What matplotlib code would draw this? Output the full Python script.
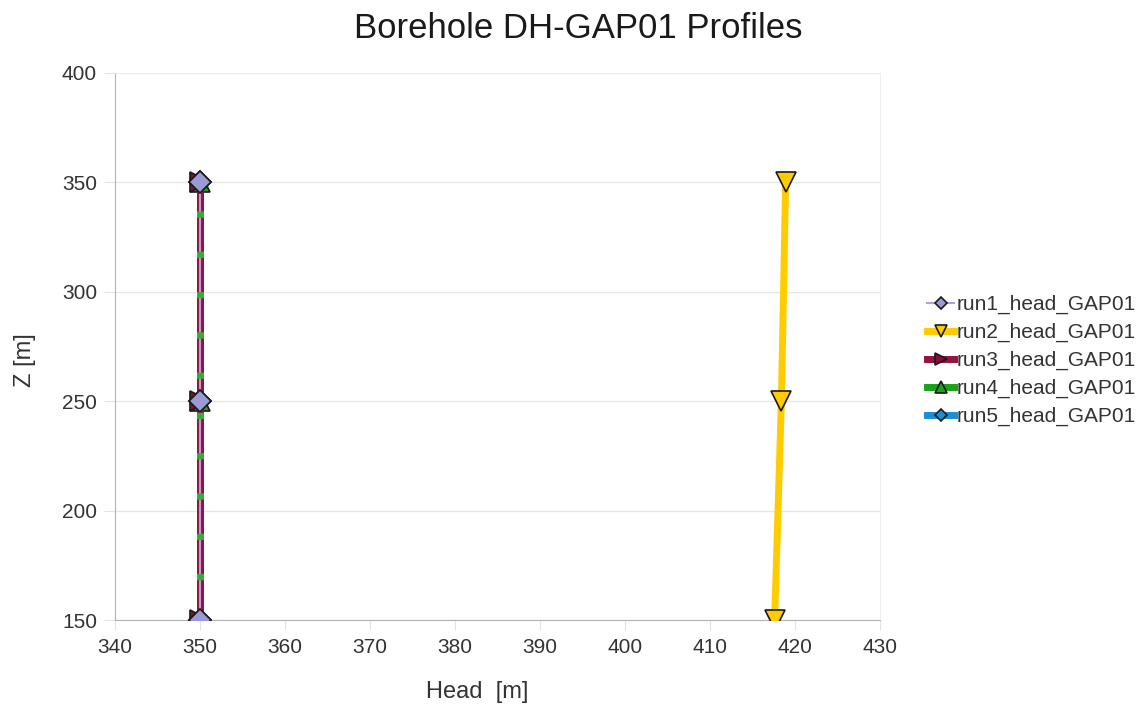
import matplotlib
matplotlib.use("Agg")
import matplotlib.pyplot as plt
from matplotlib.lines import Line2D

plt.rcParams['font.family'] = ['Liberation Sans', 'DejaVu Sans']

# Borehole profile data: depth (Z) versus hydraulic head for each run
z_values = [150, 250, 350]
run1_head = [350.0, 350.0, 350.0]
run2_head = [417.6, 418.4, 418.9]
run3_head = [350.0, 350.0, 350.0]
run4_head = [350.0, 350.0, 350.0]
run5_head = [350.0, 350.0, 350.0]

labels = ["run1_head_GAP01", "run2_head_GAP01", "run3_head_GAP01",
          "run4_head_GAP01", "run5_head_GAP01"]

x_ticks = [340, 350, 360, 370, 380, 390, 400, 410, 420, 430]
y_ticks = [150, 200, 250, 300, 350, 400]

fig = plt.figure(figsize=(11.46, 7.04), dpi=100)
ax = fig.add_axes([115 / 1146, 1 - 620 / 704, (880 - 115) / 1146, (620 - 73) / 704])

edge = "#1a1a1a"
run1_style = dict(color="#b0a0d8", lw=1.5, marker="D", ms=11,
                  mfc="#9a9ad6", mec=edge, mew=1.2)

# series, drawn bottom-up so run1 ends up on top
h5, = ax.plot(run5_head, z_values, color="#1a8fd8", lw=5, marker="D", ms=11,
              mfc="#1a8fd8", mec=edge, mew=1.2, zorder=3)
h4, = ax.plot(run4_head, z_values, color="#1aa31a", lw=5, marker="^", ms=14,
              mfc="#1aa31a", mec=edge, mew=1.2, zorder=4)
h3, = ax.plot(run3_head, z_values, color="#96123f", lw=5, marker=">", ms=14,
              mfc="#8b0a38", mec=edge, mew=1.2, zorder=5)
h2, = ax.plot(run2_head, z_values, color="#ffcc00", lw=5, marker="v", ms=15,
              mfc="#ffcc00", mec=edge, mew=1.2, zorder=6)
# run1 line, then the green stripes showing through, then run1 markers
ax.plot(run1_head, z_values, color=run1_style["color"], lw=run1_style["lw"],
        zorder=7)
ax.plot(run4_head, z_values, color="#33b033", lw=5, ls=(0, (0.9, 4.9)),
        zorder=7.5, solid_capstyle="butt", dash_capstyle="butt")
ax.plot(run1_head, z_values, ls="none", marker="D", ms=11, mfc="#9a9ad6",
        mec=edge, mew=1.2, zorder=8)
h1 = Line2D([], [], **run1_style)

ax.set_xlim(340, 430)
ax.set_ylim(150, 400)
ax.set_xticks(x_ticks)
ax.set_yticks(y_ticks)
ax.grid(axis="y", color="#e6e6e6", lw=1)
ax.set_axisbelow(True)
for side in ("top", "right"):
    ax.spines[side].set_color("#eeeeee")
for side in ("left", "bottom"):
    ax.spines[side].set_color("#b3b3b3")
ax.tick_params(axis="both", colors="#e3e3e3", labelcolor="#333333",
               labelsize=15)
ax.tick_params(axis="x", length=7, pad=6)
ax.tick_params(axis="y", length=8, pad=5)

fig.text(0.505, 1 - 28 / 704, "Borehole DH-GAP01 Profiles", ha="center",
         va="center", fontsize=25, color="#1a1a1a")
fig.text(477 / 1146, 1 - 692 / 704, "Head  [m]", ha="center", va="center",
         fontsize=17, color="#333333")
fig.text(25 / 1146, 1 - 360 / 704, "Z [m]", ha="center", va="center",
         rotation=90, fontsize=17, color="#333333")

fig.legend([h1, h2, h3, h4, h5], labels, loc="upper left",
           bbox_to_anchor=(927 / 1146, 1 - 295 / 704), frameon=False,
           borderpad=0, borderaxespad=0,
           fontsize=15, handlelength=1.3, handletextpad=0.12,
           labelspacing=0.42, markerscale=0.6, labelcolor="#333333")

fig.savefig("out.png", dpi=100)
